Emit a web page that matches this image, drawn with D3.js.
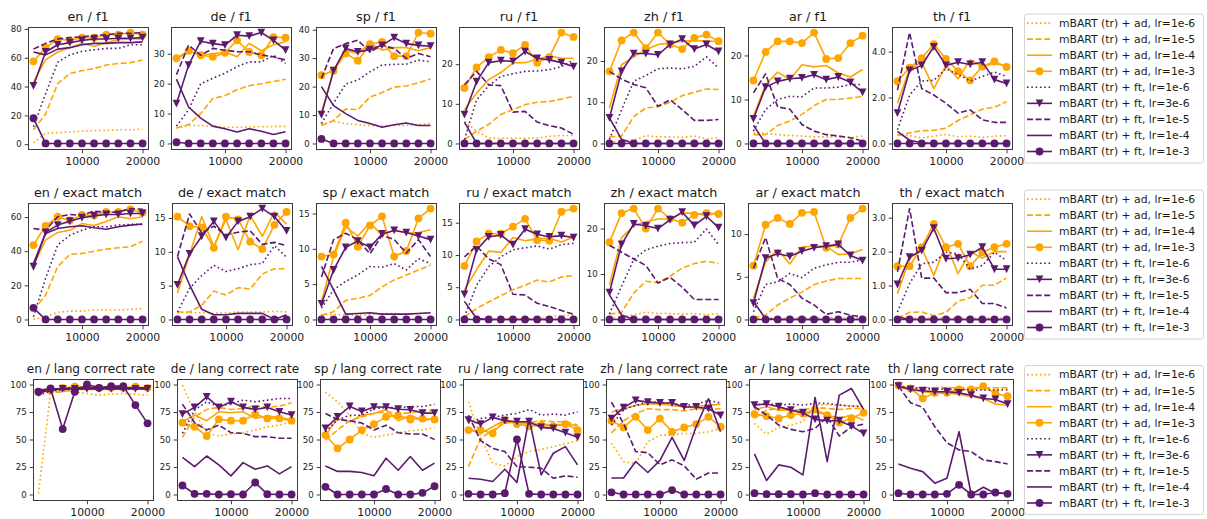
<!DOCTYPE html>
<html><head><meta charset="utf-8">
<script src="https://cdn.jsdelivr.net/npm/d3@7"></script>
<style>
body{margin:0;background:#fff}
svg{display:block}
text{font-family:"DejaVu Sans",sans-serif;fill:#1a1a1a}
</style>
</head><body>
<svg id="chart" width="1207" height="519"></svg>
<script>
// ---------- data ----------
const xValues = [2000, 4000, 6000, 8000, 10000, 12000, 14000, 16000, 18000, 20000];
const languages = ["en", "de", "sp", "ru", "zh", "ar", "th"];
const metricNames = ["f1", "exact match", "lang correct rate"];
const seriesLabels = [
  "mBART (tr) + ad, lr=1e-6", "mBART (tr) + ad, lr=1e-5", "mBART (tr) + ad, lr=1e-4",
  "mBART (tr) + ad, lr=1e-3", "mBART (tr) + ft, lr=1e-6", "mBART (tr) + ft, lr=3e-6",
  "mBART (tr) + ft, lr=1e-5", "mBART (tr) + ft, lr=1e-4", "mBART (tr) + ft, lr=1e-3"
];
const xTickValues = [10000, 20000];
const yTicksF1 = [[0,20,40,60,80],[0,10,20,30],[0,10,20,30,40],[0,10,20],[0,10,20],[0,10,20],[0,2,4]];
const yTicksExact = [[0,20,40,60],[0,5,10,15],[0,5,10,15],[0,5,10,15],[0,10,20],[0,5,10],[0,1,2,3]];
const yTicksLang = [0,25,50,75,100];
const langLimits = [0, 100];
const Z = [0,0,0,0,0,0,0,0,0,0];

// f1
const f1_en = [
  [1,7.5,8,8.5,9,9.5,9.5,10,10,10.5],
  [10,21,42,49,51,52.5,55,56,56.5,58.5],
  [43,58.5,64,67,70,68,70.5,72.5,73,73],
  [57.5,67,73,72,74,74,76,76,77.5,76],
  [12,35,57,62,64.5,65.5,66.5,66.5,69,69],
  [40.5,64,69,70.5,72,73,73,73.5,73.5,74],
  [66,70,73,74,74.5,75.5,76,77,77,77.5],
  [64,62,66,67,69,70,70,70.5,70.5,71],
  [18,0.5,0.5,0.5,0.5,0.5,0.5,0.5,0.5,0.5]
];
const f1_de = [
  [5.2,6,6,5.7,5.4,5.4,5.5,5.6,5.7,5.7],
  [5.2,6.3,10,15,16,18,19.3,20,20.7,21.5],
  [28,31,29.5,30,30.6,29,33.5,31,33,34],
  [28.5,31,29.5,29,30.3,34.5,30.6,29.5,35.6,35.4],
  [5.8,11.3,20,21.8,23.5,25.7,27.3,27.3,29.5,26.8],
  [13.3,26.2,34.2,33.4,32.9,36.2,35.9,37.1,34.5,31.2],
  [23,32.9,29.5,31.8,31.2,30.7,30.7,29.6,29,27.9],
  [21.5,12.2,8.5,5.8,4.9,3.8,4.9,4.1,3,3.9],
  [0.4,0,0,0,0,0,0,0,0,0]
];
const f1_sp = [
  [6.6,7.8,7,6.6,6.3,6.3,6.3,6.4,6.6,7],
  [6.3,8.1,12.1,11.9,16.3,17.9,19.8,20.2,21.4,22.7],
  [11,25.6,32.8,31.6,35.3,32.8,33.7,33.7,32.6,33.7],
  [24,25.6,31.6,29.1,34.9,35.7,30.7,30.7,39,38.6],
  [7,14.2,20.9,22.3,25.2,27.6,27.8,27.9,29.3,28.7],
  [10.1,25.6,33.4,32.2,33,34.5,37.2,35.1,34.5,34.2],
  [22.9,33.4,35.1,36.3,32.2,34.5,33.4,29.9,31.6,30.5],
  [20,13.3,10.5,8.1,7,5.7,6.6,7.2,6.3,6.3],
  [1.6,0,0,0,0,0,0,0,0,0]
];
const f1_ru = [
  [5.6,3.1,1.4,1.3,1.3,1.3,1.4,1.8,2,2],
  [1,3.1,4.8,7.3,8.5,9.8,10.4,10.6,11.2,11.9],
  [8.5,12.7,16.1,17.9,20.3,20.4,21.3,22.1,21.5,21.5],
  [14,19.2,21.8,23.6,22.8,24.9,20.4,21.8,28,26.9],
  [1,11,14.6,16.9,17.6,18.2,18.3,18.6,19.4,21.1],
  [7.3,15.6,20.4,20.9,20.7,23.2,21.5,21.1,20.4,19.4],
  [14.8,18.2,14.8,14.6,7.9,8.1,5.4,4.5,3.9,2.3],
  [5.4,0,0,0,0,0,0,0,0,0],
  Z
];
const f1_zh = [
  [0.3,0.6,0.8,1.9,1.6,1.6,1.5,1.8,1.1,1.5],
  [1.6,1.8,6.5,8.6,8.9,10,11.6,12.4,13.2,13.1],
  [8.6,19.1,21,22.7,24,24.4,24.8,25,24.8,24.8],
  [17.5,25,26.9,23.1,26.9,24,22.9,25.6,26.4,24.8],
  [1,8.2,15.1,16.5,18.1,18.3,18.1,18.7,21,18.3],
  [6.2,17.5,21.8,21.8,21.5,24,25.3,22.9,24,22.3],
  [17.5,15.6,14.3,13.5,9,10.6,8.2,5.6,5.6,5.8],
  [6.2,1,0,0,0,0,0,0,0,0],
  Z
];
const f1_ar = [
  [2.4,2.3,2,1.8,1.7,1.5,1.5,1.5,1.3,1.7],
  [2,2,4.1,5.1,6.6,8.6,10,10,10.3,10.7],
  [6.2,13.4,16.2,14.5,17.9,17.4,17.7,16,15.1,16.8],
  [14.3,20.8,23.2,23.2,22.8,25.2,19.2,19.4,22.8,24.5],
  [2.8,7.7,10,10.7,10.6,12.6,12.6,12.8,13.4,13.4],
  [5.6,12.8,14.1,14.7,14.9,15.6,14.5,15.1,13.9,11.6],
  [11.5,15.8,8.3,7.8,4.3,2.8,2,1.7,1.3,0.5],
  [4.1,0,0,0,0,0,0,0,0,0],
  Z
];
const f1_th = [
  [0.39,0.34,0.24,0.32,0.39,0.29,0.32,0.26,0.32,0.34],
  [0.34,0.46,0.56,0.57,0.67,1,1.25,1.49,1.58,1.82],
  [1.75,3.25,3.54,2.39,3.4,2.82,3.64,3.35,3.47,3.4],
  [2.71,3.3,3.71,4.33,3.68,3.15,2.75,3.35,3.57,3.33],
  [0.6,2.1,2.72,2.75,3.25,3.01,2.72,2.92,3.11,2.92],
  [1.32,3.18,3.4,4.21,3.4,3.54,3.44,3.54,2.78,2.61],
  [2.32,4.83,2.39,2.11,1.75,1.32,1.46,1.03,0.92,0.92],
  [0.53,0.14,0.03,0,0,0,0,0,0,0],
  Z
];

// exact match
const em_en = [
  [0,1.6,4.1,4.9,4.9,5.5,5.5,5.5,5.9,6.4],
  [5.5,14.3,30.9,38.1,38.7,40,41.2,42,42.6,45.9],
  [31.8,46.5,51,52.3,56.2,55.1,57.4,60.2,59,60.2],
  [43.6,54.9,60.2,58,61.3,61,63,63,64.5,62.7],
  [1.6,24,43.6,49.4,52.3,54.3,54.3,55.3,55.7,55.7],
  [30.9,51,55.3,57.6,59.6,60.7,61.5,61.5,62.1,62.1],
  [53.3,52.3,60.2,61.5,61,63.5,62.7,63,65,64.5],
  [32.8,50.4,53.3,54.3,54.9,53.7,52.9,54.3,55.3,55.9],
  [6.8,0,0,0,0,0,0,0,0,0]
];
const em_de = [
  [1,1,1,0.9,1,1.1,1.1,1.1,1.2,1.1],
  [1.1,1.1,2.1,4.2,3.6,4.7,4.5,6.7,7.5,7.5],
  [3.9,9.6,15.2,10.8,14.8,10.3,15.4,12.3,15.9,14.1],
  [15.2,13.8,13.6,10.6,15.2,14.8,11.5,10.4,14,15.9],
  [1.1,4.6,6.5,8,7.1,7.5,8.1,8.3,10.9,9.2],
  [5.1,9.7,12.3,14.5,12.1,14.5,15.2,16.4,15.2,13.1],
  [9.3,15.6,12.8,13.8,12.5,12.9,13.1,11.1,11.4,10.9],
  [9.3,5.1,1.5,0.7,0.7,0.9,0.9,0.9,0,0.7],
  Z
];
const em_sp = [
  [0.6,0.75,0.6,0.6,0.7,0.85,0.85,0.7,0.85,0.95],
  [0.6,1.1,2.7,3,3.4,4.6,5.6,6.3,7,7.7],
  [2.5,8.9,13.1,11.8,13.7,11.9,12.7,12.2,12.3,12.7],
  [8.9,9.2,13.7,10.3,13.3,14.6,8.9,9.7,14.3,15.7],
  [1.6,4.2,5.4,6.3,7.5,7.4,7.9,7,8.6,7.9],
  [2.2,7,10.2,11.1,10.2,12.1,12.6,12.3,11.8,11.3],
  [6,11.3,12.2,11.3,9.3,11.9,11.3,9.4,11.3,8.9],
  [7.5,4.2,0.75,0.85,0.95,0.75,0.75,0.75,0.85,0.95],
  Z
];
const em_ru = [
  [0.05,0.05,0.05,0.1,0.1,0.1,0.2,0.4,0.6,0.7],
  [0.4,1.7,2.7,3.7,4.6,5.3,6.1,5.8,6.6,6.8],
  [4.6,7.7,10.6,10.4,12.7,12.2,12.5,12.6,12,12.8],
  [8.3,12.1,13.3,13.3,14.4,15.6,12.3,12.2,16.7,17.2],
  [0.4,5.3,8.2,9.7,10.8,11.1,11.4,10.9,11.6,11.8],
  [3.9,10.8,12.8,13.1,11.6,14,13.2,12.8,13,12.7],
  [9.7,11.4,9.4,8.5,3.9,3.8,2.5,2,1.4,0.8],
  [2.8,0.15,0,0,0,0,0,0,0,0],
  Z
];
const em_zh = [
  [0.2,0.6,1,1.6,1.3,1.3,1.2,1.3,1,1.3],
  [1.2,1.5,5.8,8.4,8.1,9.5,11.3,12.3,12.8,12.3],
  [7.6,18,20.6,21.5,22.1,22.1,23.4,23.4,22.8,23.6],
  [17,23.4,24.4,20,24.4,22.2,21.3,23,23.4,23.2],
  [1.2,7.3,13.2,15.3,16.1,16.7,16.9,17,19.9,16.5],
  [5.9,16.5,21,20.6,20,21.9,23.6,20.7,22.7,20.2],
  [16.3,14.8,13.3,11.9,8,9.3,7.1,4.4,4.4,4.4],
  [5.4,1,0,0,0,0,0,0,0,0],
  Z
];
const em_ar = [
  [0.1,0.2,0.2,0.1,0.2,0.2,0.2,0.2,0.2,0.2],
  [0.2,0.5,1.7,2.5,3.2,4.1,4.5,4.8,4.8,4.8],
  [2.5,6.7,8.2,6.5,8.5,8.6,8.6,7.6,7.7,8.2],
  [6.3,11.1,11.9,11.2,12.5,12.6,8.4,8.8,11.9,13],
  [0.9,4.1,4.4,5.4,4.9,6,6.4,6.7,6.7,7],
  [1.9,7.2,7.7,7.4,8,8.4,8.6,8.8,7.5,6.9],
  [6,9.6,4.8,4.1,2.5,1.7,0.6,0.9,0.5,0.3],
  [2.1,0.1,0,0,0,0,0,0,0,0],
  Z
];
const em_th = [
  [0.08,0.05,0.03,0.05,0.04,0.05,0.03,0.04,0.05,0.06],
  [0.03,0.21,0.22,0.11,0.21,0.54,0.64,1.01,1.01,1.22],
  [0.76,1.79,2.1,1.3,2.23,1.35,2,1.81,2,2],
  [1.57,1.57,2.13,2.82,2.13,2.23,1.57,1.98,2.13,2.23],
  [0.22,1.06,1.64,1.69,1.98,1.94,1.48,1.59,1.98,1.74],
  [1.03,1.84,2.03,2.69,1.79,1.81,1.91,2.13,1.48,1.48],
  [1.4,3.27,1.22,1.22,0.79,0.79,0.89,0.47,0.47,0.34],
  [0.08,0,0,0,0,0,0,0,0,0],
  Z
];

// lang correct rate
const lang_en = [
  [1,92.4,94.3,93.4,91.8,90.3,91.2,91.8,91.2,90.3],
  [93.4,92.4,93.4,95.5,95.5,95.5,95.5,96.4,96.4,95.5],
  [92,95,96,96,96.5,96.5,96.5,96.5,96.5,96.5],
  [93,95,97,98,98,97,97,97,98,97],
  [90,94,95,96,96,96,96,96,96,96],
  [92.4,95,96,96,96,96,96,96,96,96],
  [94,95,96,97,97,97,97,97,97,97],
  [95,96,96,97,97,97,97,97,97,97],
  [93.4,96.4,59.5,93.4,100,97,98.5,98.5,81.3,64.7]
];
const lang_de = [
  [99.4,75.2,55.6,53.2,55,56.2,58.6,61.6,63.1,66.2],
  [52,70.7,77.3,79.2,77.3,78.2,80.4,79.2,80.4,83.4],
  [66.2,72.2,67.1,75.2,74.3,75.2,69.2,71.3,70.1,67.7],
  [65.3,61.6,53.2,68.3,67.1,67.1,73.1,69.2,69.2,67.1],
  [55.6,76.7,84.3,79.8,82.8,85.8,84.3,85.8,87.3,87.3],
  [73.1,79.2,88.8,79.2,84.3,79.2,77.3,79.2,75.2,72.2],
  [82.2,65.3,58.6,63.1,56.2,55.6,52.6,52.6,51.1,51.1],
  [33.8,25.4,35,26.9,16.9,29,23,26,18.7,25.4],
  [8.2,0.6,0.6,0,0.3,0,10.9,0.3,0,0]
];
const lang_sp = [
  [93.1,84.1,72,55.5,52,54,56.2,58,58.6,61],
  [49.5,58.6,67,70.6,73.6,75,74,74,76.6,76],
  [54,69,66,72,73.6,77.2,67,72,67.6,69],
  [54,42,50,58.6,64,70.6,72,68.2,69,68.2],
  [57,68,72,72,78,79,79,80,80,82],
  [60,70.6,80,75.5,79.5,79.5,77.5,77,74,74],
  [73.6,68.2,67,65,58.6,63,56.2,55,55,50],
  [26,21,21,20,17,33,22,34.5,22,28.5],
  [7,0,0,0,0,5,0,0,1.5,7.5]
];
const lang_ru = [
  [84.3,52.6,28.4,26,34.4,39,41,43.5,46,49],
  [25.4,51,58.6,64.7,66.2,65.3,67.1,66.2,66.2,63.1],
  [59.2,55.6,61.6,67.7,65.3,64,64,63.1,64,62.2],
  [58.6,58.6,55.6,67.7,64,62.2,63.1,62.2,64,58.6],
  [65.3,69.2,70.1,72.2,73.7,77.3,72.2,73.1,72.2,75.2],
  [67.7,64,70.1,67.1,66.2,66.2,61,60.1,56.2,52],
  [72.2,49,42,39,25.4,24.8,23.9,14.8,16.9,15.7],
  [14.8,13.9,11.8,23,10.9,69.2,17.8,37.5,43.5,26.9],
  [0.6,0,0,1.2,50.2,0.6,0,0,0,0]
];
const lang_zh = [
  [46.5,30,28,48,54,54,55.5,55.5,57,60],
  [56,67,73.6,78,77.2,77.2,76,78,77.2,78],
  [75,78,81,82.6,82,81,79.6,80,81,82],
  [67,61,70.6,58.6,69,57,61,64,70.6,61.6],
  [63,77.2,81,84,84,82.6,81,82,85.6,83.2],
  [69,79,85.6,84,83.2,83.2,79.6,79.6,78,72],
  [84,64.5,39,38,27,31.5,26,14,19.5,19.5],
  [15,15,30,20,31,52,31,62,87,57],
  [2,0,0,0,0,4,0,0,0,0]
];
const lang_ar = [
  [64.7,55,61,63.1,66.2,81.3,81.3,81.3,80.4,80.4],
  [69.2,76.7,78.2,77.3,76.7,79.2,78.2,77.3,78.2,78.2],
  [77.3,79.8,76.7,76.7,73.7,75.2,72.2,69.2,72.2,67.7],
  [73.1,71.3,69.2,72.2,73.7,77.3,72.2,65.3,69.2,74.3],
  [81.3,82.8,81.3,82.2,81.3,82.8,82.8,81.3,80.4,79.8],
  [81.3,82.2,79.8,76.7,74.3,68.3,67.1,67.1,62.2,55.6],
  [79.8,72.2,63.1,59.2,57.1,60.1,70.7,53.2,61.6,64],
  [36.9,12.7,26.9,24.8,17.8,88.2,29.9,90.3,96.4,77.3],
  [1.2,0.3,0.3,0.3,0,1.2,0,0,0,0]
];
const lang_th = [
  [98.5,96.4,97.3,97.3,97.3,97.3,97.3,97.3,96.4,96.4],
  [99,97,97,97,97,97,97,97,97,97],
  [97.3,95.5,93.4,92.4,91.8,91.2,88.8,87.3,82.2,81.3],
  [99.4,96.4,87.3,92.4,92.4,95.5,95.5,98.5,91.8,89.4],
  [98,97,96,96,95.5,95.5,95,95,95,95],
  [98.5,95.5,94.3,93.4,93.4,92.4,90.3,87.3,86.4,82.2],
  [98.5,83.4,79.2,61.6,47.1,40.5,39,31.4,29.9,27.8],
  [27.8,23.9,20.8,10.3,14.8,57.1,0,6.6,1.2,1.2],
  [1.2,0,0,0,0.6,8.8,0,0,1.8,0.6]
];

// ---------- styles / layout ----------
const ORANGE = "#ffa500", PURPLE = "#5c1a6e";
const DOT = "1.6,2.7", DASH = "6,2.6";
const seriesStyle = [
  {color: ORANGE, dash: DOT, marker: null},
  {color: ORANGE, dash: DASH, marker: null},
  {color: ORANGE, dash: null, marker: null},
  {color: ORANGE, dash: null, marker: "circle"},
  {color: PURPLE, dash: DOT, marker: null},
  {color: PURPLE, dash: null, marker: "tri"},
  {color: PURPLE, dash: DASH, marker: null},
  {color: PURPLE, dash: null, marker: null},
  {color: PURPLE, dash: null, marker: "circle"}
];
const rowTop = [27, 203, 379];
const rowBottom = [149, 325, 500];
const colLeft = [
  [28, 171, 316, 459, 604, 748, 892],
  [28, 172, 316, 459, 604, 748, 892],
  [33, 177, 320, 463, 606, 749, 893]
];
const panelW = 120;

const rowData = [
  [f1_en, f1_de, f1_sp, f1_ru, f1_zh, f1_ar, f1_th],
  [em_en, em_de, em_sp, em_ru, em_zh, em_ar, em_th],
  [lang_en, lang_de, lang_sp, lang_ru, lang_zh, lang_ar, lang_th]
];
const rowTicks = [yTicksF1, yTicksExact, languages.map(() => yTicksLang)];

const svg = d3.select("#chart");
svg.append("rect").attr("width", 1207).attr("height", 519).attr("fill", "#fff");

const triPath = s => `M${-s},${-s}L${s},${-s}L0,${s}Z`;

function drawMarker(g, kind, color, x, y) {
  if (kind === "circle") {
    g.append("circle").attr("cx", x).attr("cy", y).attr("r", 3.9).attr("fill", color);
  } else if (kind === "tri") {
    g.append("path").attr("d", triPath(3.9)).attr("transform", `translate(${x},${y})`).attr("fill", color);
  }
}

rowData.forEach((row, r) => {
  row.forEach((series, c) => {
    const left = colLeft[r][c], top = rowTop[r], bottom = rowBottom[r];
    const all = series.flat();
    const lo = r === 2 ? langLimits[0] : d3.min(all);
    const hi = r === 2 ? langLimits[1] : d3.max(all);
    const pad = (hi - lo) * 0.05;
    const xr = xValues[xValues.length - 1] - xValues[0];
    const x = d3.scaleLinear().domain([xValues[0] - xr * 0.05, xValues[xValues.length - 1] + xr * 0.05]).range([left, left + panelW]);
    const y = d3.scaleLinear().domain([lo - pad, hi + pad]).range([bottom, top]);
    const g = svg.append("g");

    const line = d3.line().x((d, i) => x(xValues[i])).y(d => y(d));
    series.forEach((vals, s) => {
      const st = seriesStyle[s];
      g.append("path").attr("d", line(vals)).attr("fill", "none")
        .attr("stroke", st.color).attr("stroke-width", 1.6)
        .attr("stroke-linejoin", "round")
        .attr("stroke-dasharray", st.dash);
      if (st.marker) vals.forEach((v, i) => drawMarker(g, st.marker, st.color, x(xValues[i]), y(v)));
    });

    g.append("rect").attr("x", left + 0.5).attr("y", top + 0.5)
      .attr("width", panelW).attr("height", bottom - top)
      .attr("fill", "none").attr("stroke", "#3c3c3c").attr("stroke-width", 1);

    const ya = svg.append("g").attr("transform", `translate(${left + 0.5},0)`)
      .call(d3.axisLeft(y).tickValues(rowTicks[r][c]).tickSize(3.8).tickPadding(3));
    ya.select(".domain").remove();
    ya.selectAll("line").attr("stroke", "#3c3c3c");
    ya.selectAll("text").attr("font-size", 8.6).attr("fill", "#1a1a1a").style("font-family", '"DejaVu Sans",sans-serif');

    const xa = svg.append("g").attr("transform", `translate(0,${bottom + 0.5})`)
      .call(d3.axisBottom(x).tickValues(xTickValues).tickFormat(d3.format("d")).tickSize(3.8).tickPadding(4));
    xa.select(".domain").remove();
    xa.selectAll("line").attr("stroke", "#3c3c3c");
    xa.selectAll("text").attr("font-size", 10.8).attr("fill", "#1a1a1a").style("font-family", '"DejaVu Sans",sans-serif');

    svg.append("text").attr("x", left + panelW / 2 - (r === 2 ? 2 : 0)).attr("y", top - 6)
      .attr("text-anchor", "middle").attr("font-size", r === 2 ? 12.2 : 12.8)
      .text(`${languages[c]} / ${metricNames[r]}`);
  });

  // legend
  const lx = 1024, lw = 179, lh = 149;
  const ly = (rowTop[r] + rowBottom[r]) / 2 - lh / 2;
  const lg = svg.append("g");
  lg.append("rect").attr("x", lx + 0.5).attr("y", ly + 0.5).attr("width", lw).attr("height", lh)
    .attr("rx", 2.5).attr("fill", "#fff").attr("stroke", "#d4d4d4").attr("stroke-width", 1);
  seriesLabels.forEach((lab, s) => {
    const st = seriesStyle[s];
    const cy = ly + 9.6 + s * 16.05;
    lg.append("line").attr("x1", lx + 3).attr("x2", lx + 28).attr("y1", cy).attr("y2", cy)
      .attr("stroke", st.color).attr("stroke-width", 1.6).attr("stroke-dasharray", st.dash);
    if (st.marker) drawMarker(lg, st.marker, st.color, lx + 15.5, cy);
    lg.append("text").attr("x", lx + 35).attr("y", cy).attr("dy", "0.36em")
      .attr("font-size", 10.8).text(lab);
  });
});
</script>
</body></html>
